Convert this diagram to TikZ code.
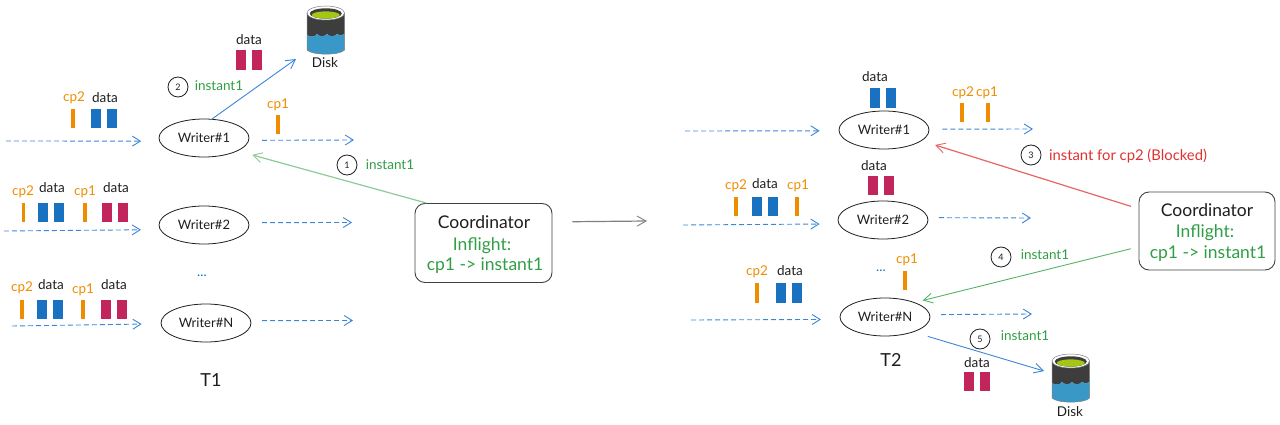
\documentclass[tikz,border=0pt]{standalone}
\usepackage{fontspec}
\setmainfont{Lato}
\usetikzlibrary{arrows.meta,shapes.geometric}
\definecolor{cOrange}{HTML}{F08C00}
\definecolor{cGreen}{HTML}{2F9E44}
\definecolor{cRed}{HTML}{E03131}
\definecolor{cBlue}{HTML}{1971C2}
\definecolor{cCrimson}{HTML}{C2255C}
\definecolor{cDash}{HTML}{3B86D8}
\definecolor{cInk}{HTML}{1E1E1E}
\definecolor{cDiskTop}{HTML}{3D3D3D}
\definecolor{cDiskLow}{HTML}{3A98C8}
\definecolor{cDiskLid}{HTML}{A4C617}
\tikzset{
  x=1pt,y=-1pt,
  writer/.style={ellipse,draw=cInk,line width=.8pt,minimum width=90pt,minimum height=38pt,inner sep=0pt,font=\fontsize{13}{15}\selectfont,text=cInk},
  coordbox/.style={rectangle,rounded corners=10pt,draw=cInk!85,line width=.9pt,minimum width=137pt,minimum height=79pt,inner sep=0pt},
  numc/.style={circle,draw=cInk,line width=.8pt,minimum size=20pt,inner sep=0pt,font=\fontsize{9}{10}\selectfont,text=cInk},
  lbl/.style={inner sep=0pt,font=\fontsize{13.5}{15}\selectfont},
  lblk/.style={lbl,text=cInk},
  lblo/.style={lbl,text=cOrange},
  lblg/.style={lbl,text=cGreen},
  lblr/.style={inner sep=0pt,font=\fontsize{14.8}{16}\selectfont,text=cRed},
  captext/.style={inner sep=0pt,font=\fontsize{18}{20}\selectfont},
  bigtext/.style={inner sep=0pt,font=\fontsize{17.5}{19}\selectfont},
  flow/.style={draw=cDash,line width=.9pt,dash pattern=on 5pt off 3pt,-{Straight Barb[length=8pt,width=10pt,line width=.9pt]}},
  solidarrow/.style={line width=.9pt,-{Straight Barb[length=9pt,width=10pt,line width=.9pt]}},
  orangebar/.style={fill=cOrange},
  bluebar/.style={fill=cBlue},
  redbar/.style={fill=cCrimson},
}
\newcommand{\diskshape}[2]{%
  \begin{scope}[shift={(#1,#2)}]
    \fill[fill=cDiskTop] (0,7) -- (0,29) .. controls (4,32) and (7,31) .. (10,28) .. controls (13,31) and (17,31) .. (20,28) .. controls (23,31) and (27,31) .. (30,28) .. controls (32,30) and (35,30) .. (37.5,28) -- (37.5,7) -- cycle;
    \fill[fill=cDiskLow] (0,29) .. controls (4,32) and (7,31) .. (10,28) .. controls (13,31) and (17,31) .. (20,28) .. controls (23,31) and (27,31) .. (30,28) .. controls (32,30) and (35,30) .. (37.5,28) -- (37.5,44) .. controls (33,49.5) and (5,49.5) .. (0,44) -- cycle;
    \draw[gray,line width=.5pt] (0,7) -- (0,44) .. controls (5,49.5) and (33,49.5) .. (37.5,44) -- (37.5,7);
    \fill[white,draw=gray,line width=.5pt] (18.75,7) ellipse [x radius=18.75,y radius=7];
    \fill[cDiskTop] (18.75,7.5) ellipse [x radius=16,y radius=5.2];
    \fill[cDiskLid] (18.75,9) ellipse [x radius=14,y radius=3.6];
  \end{scope}}
\begin{document}
\begin{tikzpicture}
\useasboundingbox (0,0) rectangle (1280,425);

% ---------- T1 ----------
\node[writer] (w1) at (204,138) {Writer\#1};
\node[writer] (w2) at (204,225) {Writer\#2};
\node[writer] (wn) at (206,323) {Writer\#N};
\node[coordbox] (c1) at (483.5,243) {};
\node[bigtext,text=cInk] (c1a) at (484,222) {Coordinator};
\node[bigtext,text=cGreen] (c1b) at (482,246) {Inflight:};
\node[bigtext,text=cGreen] (c1c) at (485,266) {cp1 -> instant1};
\diskshape{307}{6}
\node[lblk] (d1lab) at (325,63) {Disk};
\coordinate (disk1) at (296,59);

\node[lblk] (t1a) at (249,40) {data};
\fill[redbar] (236,50) rectangle (246,70);
\fill[redbar] (252,50) rectangle (262,70);
\node[numc] (n2) at (178,87) {2};
\node[lblg] (t1b) at (219,86) {instant1};
\draw[solidarrow,draw=cDash] (w1.67) -- (disk1);

\node[lblo] (t1c) at (74,98) {cp2};
\node[lblk] (t1d) at (105,98) {data};
\fill[orangebar] (71,109) rectangle (75,128);
\fill[bluebar] (91,109) rectangle (101,128);
\fill[bluebar] (107,109) rectangle (117,128);
\coordinate (i1) at (6,141);
\draw[flow,shorten >=18pt] (i1) -- (w1.184);
\node[lblo] (t1e) at (278,105) {cp1};
\fill[orangebar] (276,115) rectangle (280,134);
\coordinate (o1) at (354,140);
\draw[flow,shorten <=13pt] (w1.-3) -- (o1);

\draw[solidarrow,draw=cGreen!55,line width=1.2pt,shorten >=15pt] (c1.145) -- (w1.-21);
\node[numc] (n1) at (347,165) {1};
\node[lblg] (t1f) at (390,165) {instant1};

\node[lblo] (t2a) at (23,192) {cp2};
\node[lblk] (t2b) at (52,188) {data};
\node[lblo] (t2c) at (85,192) {cp1};
\node[lblk] (t2d) at (116,188) {data};
\fill[orangebar] (21.5,203) rectangle (25,222);
\fill[bluebar] (38,203) rectangle (48,222);
\fill[bluebar] (54,203) rectangle (64,222);
\fill[orangebar] (83,203) rectangle (87,222);
\fill[redbar] (102,203) rectangle (112,222);
\fill[redbar] (118,203) rectangle (128,222);
\coordinate (i2) at (4,231);
\draw[flow,shorten >=19pt] (i2) -- (w2.186);
\coordinate (o2) at (352,222.5);
\draw[flow,shorten <=13pt] (w2.3) -- (o2);

\node[lbl,text=cBlue] (dots1) at (202,276) {...};

\node[lblo] (t3a) at (22,288) {cp2};
\node[lblk] (t3b) at (51,285) {data};
\node[lblo] (t3c) at (83,290) {cp1};
\node[lblk] (t3d) at (114,285) {data};
\fill[orangebar] (20,300) rectangle (23.5,319);
\fill[bluebar] (37,300) rectangle (47,319);
\fill[bluebar] (53,300) rectangle (63,319);
\fill[orangebar] (81,300) rectangle (85,319);
\fill[redbar] (101,300) rectangle (111,319);
\fill[redbar] (117,300) rectangle (127,319);
\coordinate (i3) at (12,326);
\draw[flow,shorten >=19pt] (i3) -- (wn.181);
\coordinate (o3) at (353,320.5);
\draw[flow,shorten <=11pt] (wn.3) -- (o3);
\node[captext,text=cInk] (T1) at (211,380) {T1};

% ---------- T1 to T2 ----------
\coordinate (mid) at (647,221);
\draw[solidarrow,draw=gray,line width=1.2pt,shorten <=20pt] (c1.17.8) -- (mid);

% ---------- T2 ----------
\node[writer] (v1) at (884,130) {Writer\#1};
\node[writer] (v2) at (883,220) {Writer\#2};
\node[writer] (vn) at (885,317) {Writer\#N};
\node[coordbox,minimum width=136pt,minimum height=78pt] (c2) at (1207,231) {};
\node[bigtext,text=cInk] (c2a) at (1207,210) {Coordinator};
\node[bigtext,text=cGreen] (c2b) at (1205,233) {Inflight:};
\node[bigtext,text=cGreen] (c2c) at (1208,254) {cp1 -> instant1};

\node[lblk] (u1a) at (875,77) {data};
\fill[bluebar] (870,88) rectangle (880,108);
\fill[bluebar] (886,88) rectangle (896,108);
\coordinate (j1) at (685,131);
\draw[flow,shorten >=19pt] (j1) -- (v1.181);
\node[lblo] (u1b) at (963,93) {cp2};
\node[lblo] (u1c) at (987,93) {cp1};
\fill[orangebar] (960,103) rectangle (964,122);
\fill[orangebar] (986,103) rectangle (990,122);
\coordinate (p1) at (1033,129);
\draw[flow,shorten <=13pt] (v1.1) -- (p1);

\node[lblk] (u2a) at (874,166) {data};
\fill[redbar] (868,176) rectangle (878,195);
\fill[redbar] (884,176) rectangle (894,195);
\node[lblo] (u2b) at (736,186) {cp2};
\node[lblk] (u2c) at (765,184) {data};
\node[lblo] (u2d) at (798,186) {cp1};
\fill[orangebar] (734,197) rectangle (738,216);
\fill[bluebar] (752,197) rectangle (762,216);
\fill[bluebar] (768,197) rectangle (778,216);
\fill[orangebar] (795,197) rectangle (798.5,216);
\coordinate (j2) at (683,225);
\draw[flow,shorten >=19pt] (j2) -- (v2.185);
\coordinate (p2) at (1031,218);
\draw[flow,shorten <=11pt] (v2.3) -- (p2);

\node[lbl,text=cBlue] (dots2) at (881,271) {...};
\node[lblo] (u3a) at (907,260) {cp1};
\fill[orangebar] (903,271) rectangle (907,290);
\node[lblo] (u3b) at (757,272) {cp2};
\node[lblk] (u3c) at (790,271) {data};
\fill[orangebar] (755,283) rectangle (759,303);
\fill[bluebar] (776,283) rectangle (786,303);
\fill[bluebar] (792,283) rectangle (802,303);
\coordinate (j3) at (691,320);
\draw[flow,shorten >=19pt] (j3) -- (vn.183);
\coordinate (p3) at (1032,314);
\draw[flow,shorten <=11pt] (vn.3) -- (p3);

\draw[solidarrow,draw=cRed!75,line width=1.2pt,shorten >=14pt,shorten <=8pt] (c2.162.5) -- (v1.-16.7);
\node[numc] (n3) at (1031,155) {3};
\node[lblr] (u4) at (1128,156) {instant for cp2 (Blocked)};

\draw[solidarrow,draw=cGreen!80,shorten >=8pt,shorten <=8pt] (c2.193.3) -- (vn.26);
\node[numc] (n4) at (1001,257) {4};
\node[lblg] (u5) at (1045,255) {instant1};

\diskshape{1052}{354}
\node[lblk] (d2lab) at (1070,412) {Disk};
\coordinate (disk2) at (1044,371);
\draw[solidarrow,draw=cDash,shorten <=15pt] (vn.-28) -- (disk2);
\node[numc] (n5) at (980,339) {5};
\node[lblg] (u6) at (1025,336) {instant1};
\node[captext,text=cInk] (T2) at (891,360) {T2};
\node[lblk] (u7) at (977,363) {data};
\fill[redbar] (964,372) rectangle (974,391);
\fill[redbar] (980,372) rectangle (990,391);
\end{tikzpicture}
\end{document}
